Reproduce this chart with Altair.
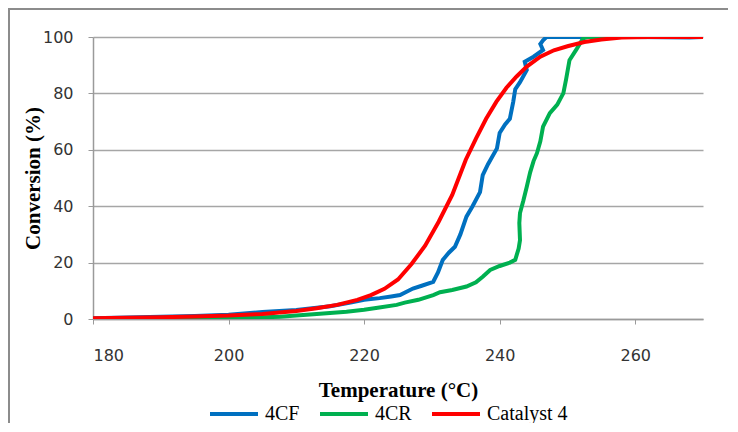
import altair as alt
import pandas as pd

# Catalyst 4 (red)
cat4_T = [180, 185, 190, 195, 200, 205, 210, 213, 216, 219, 221, 223, 225, 227, 229, 231, 233, 235,
          236.5, 238, 239.5, 241, 242.5, 244, 246, 248, 250, 252.5, 255, 258, 262, 270]
cat4_C = [0.3, 0.4, 0.6, 0.9, 1.2, 1.8, 2.8, 3.8, 5.0, 6.8, 8.5, 10.7, 14.0, 19.5, 26, 34.5, 44, 56.5,
          64, 71, 77, 82, 86, 89.5, 93, 95.3, 96.7, 98.2, 99.1, 99.8, 100, 100]

# 4CF (blue)
cf_T = [180, 185, 190, 195, 200, 205, 210, 215, 218, 220, 222.3, 224, 225.3, 227.2, 228.5, 230.2, 230.9,
        231.6, 232.5, 233.4, 234.2, 235.1, 236, 237.1, 237.5, 238.3, 239.6, 240, 240.8, 241.5, 242,
        242.3, 243, 244, 243.7, 245, 246.4, 246, 246.4, 246.9, 250, 260, 268, 270]
cf_C = [0.3, 0.5, 0.8, 1.1, 1.5, 2.5, 3.2, 4.5, 5.8, 6.8, 7.4, 8.0, 8.5, 10.8, 11.8, 13.2, 16.5,
        20.9, 23.5, 25.6, 30, 36.3, 40, 45, 51, 55, 60.5, 66, 69, 71, 77,
        81.5, 84, 88.3, 91.2, 93, 95.4, 97.5, 98.8, 100, 100, 100, 99.8, 100]

# 4CR (green)
cr_T = [180, 190, 195, 200, 204, 207.6, 210, 213, 217.4, 220, 222, 224.8, 226, 228, 230.2, 231.2, 233,
        235.1, 236.5, 237.5, 238.6, 240, 241.5, 242.3, 242.8, 243, 242.9, 243, 243.5, 244, 244.5, 245,
        245.5, 246, 246.4, 247.4, 248.5, 249.4, 249.8, 250.3, 251.3, 252.3, 253, 270]
cr_C = [0.1, 0.1, 0.2, 0.3, 0.5, 0.8, 1.2, 1.8, 2.6, 3.3, 4.0, 5.0, 5.8, 6.8, 8.5, 9.5, 10.3,
        11.5, 13, 15, 17.4, 18.8, 20, 21, 25, 28, 34, 37.6, 42, 46.9, 52, 56,
        58.8, 63, 68.2, 73, 76, 80.1, 85, 91.8, 95.5, 99.5, 100, 100]

series = ["4CF", "4CR", "Catalyst 4"]
colors = ["#0070C0", "#00B050", "#FF0000"]
x_ticks = [180, 200, 220, 240, 260]
y_ticks = [0, 20, 40, 60, 80, 100]

rows = []
for name, T, C in [("4CF", cf_T, cf_C), ("4CR", cr_T, cr_C), ("Catalyst 4", cat4_T, cat4_C)]:
    for i, (t, c) in enumerate(zip(T, C)):
        rows.append({"series": name, "T": t, "C": c, "idx": i})
df = pd.DataFrame(rows)

lines = alt.Chart(df).mark_line(strokeWidth=4, clip=True).encode(
    x=alt.X("T:Q", scale=alt.Scale(domain=[180, 270], nice=False, zero=False),
            axis=alt.Axis(values=x_ticks, title="Temperature (°C)", grid=False,
                          titleY=71, titleBaseline="middle",
                          labelPadding=23, tickSize=5)),
    y=alt.Y("C:Q", scale=alt.Scale(domain=[0, 100], nice=False),
            axis=alt.Axis(values=y_ticks, title="Conversion (%)", grid=True,
                          titleX=-60, titleBaseline="middle", titleAngle=-90,
                          labelPadding=15, tickSize=5)),
    color=alt.Color("series:N", scale=alt.Scale(domain=series, range=colors),
                    legend=alt.Legend(title=None, orient="none", direction="horizontal",
                                      legendX=115, legendY=351, symbolType="stroke",
                                      symbolSize=2304, symbolStrokeWidth=4,
                                      labelFont="Liberation Serif", labelFontSize=20,
                                      labelColor="#000000", labelOffset=5, columnPadding=12,
                                      labelLimit=200)),
    order=alt.Order("idx:Q"),
)

border = alt.Chart(pd.DataFrame({"a": [0]})).mark_rect(
    filled=False, stroke="#8c8c8c", strokeWidth=2, clip=False
).encode(x=alt.value(-84), y=alt.value(-28), x2=alt.value(700), y2=alt.value(500))

chart = alt.layer(lines, border).properties(
    width=610, height=282,
    autosize=alt.AutoSizeParams(type="none"),
    padding={"left": 85, "top": 29, "right": 25, "bottom": 104},
).configure_view(stroke=None).configure_axis(
    labelFont="DejaVu Sans", labelFontSize=16, labelColor="#333333",
    titleFont="Liberation Serif", titleFontSize=21, titleFontWeight="bold", titleColor="#000000",
    domainColor="#9a9a9a", tickColor="#9a9a9a", gridColor="#a6a6a6", gridWidth=1.5,
    domainWidth=1.5,
)

chart.save("out.html", embed_options={"renderer": "svg", "actions": False})
